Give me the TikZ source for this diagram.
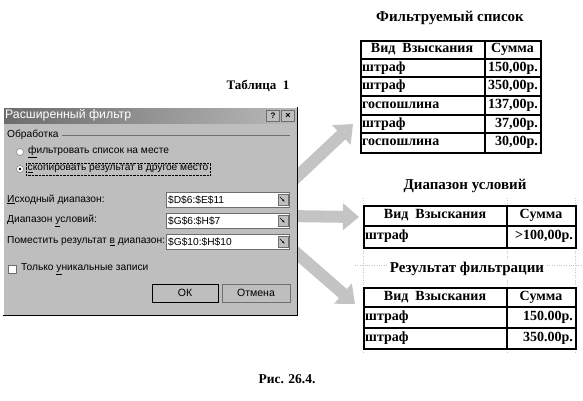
\documentclass[tikz,border=0pt]{standalone}
\usepackage{fontspec}
\setmainfont{Liberation Serif}
\setsansfont{Liberation Sans}
\usetikzlibrary{arrows.meta,calc,positioning}
\definecolor{dlggray}{RGB}{190,190,190}
\definecolor{arrgray}{RGB}{196,196,196}
\definecolor{dlgshadow}{RGB}{110,110,110}

\begin{document}
\begin{tikzpicture}[
    x=1pt, y=-1pt,
    dlgtext/.style={font=\sffamily\fontsize{10.2}{11}\selectfont, inner sep=0pt, anchor=west},
    field/.style={draw=dlgshadow, fill=white, minimum width=123pt, minimum height=15pt, inner sep=0pt, anchor=north west},
    pick/.style={draw=dlgshadow, fill=dlggray, minimum width=10pt, minimum height=11pt, inner sep=0pt, anchor=east},
    btn/.style={draw=dlgshadow, fill=dlggray, minimum height=18pt, inner sep=0pt, font=\sffamily\fontsize{10.5}{11}\selectfont},
    radio/.style={circle, draw=dlgshadow, fill=white, minimum size=7pt, inner sep=0pt},
    tbl/.style={draw, line width=2pt, inner sep=0pt, anchor=north west},
    rule/.style={line width=2pt},
    cell/.style={font=\bfseries\fontsize{14}{15}\selectfont, inner sep=1pt},
    ttl/.style={font=\bfseries\fontsize{15}{16}\selectfont, fill=white, inner sep=2pt},
    grid/.style={gray!45, dotted, line width=0.4pt},
    bigarrow/.style={line width=12pt, draw=arrgray, -{Triangle[width=26pt,length=16pt]}}
]
    \useasboundingbox (0,0) rectangle (583,400);

    % Excel grid behind the small tables
    \draw[grid] (363,198) -- (363,352);
    \draw[grid] (507,198) -- (507,352);
    \draw[grid] (575,198) -- (575,352);
    \draw[grid] (355,265) -- (583,265);

    % Titles
    \node[ttl] (srcttl) at (450,18) {Фильтруемый список};
    \node[ttl] (condttl) at (465,186) {Диапазон условий};
    \node[ttl] (resttl) at (467,269) {Результат фильтрации};
    \node[ttl, font=\bfseries\fontsize{13}{14}\selectfont] (tabno) at (258,86) {Таблица\ \ 1};
    \node[ttl, font=\bfseries\fontsize{13.5}{14}\selectfont] (fig) at (287,379) {Рис. 26.4.};

    % Filtered list
    \node[tbl, minimum width=180pt, minimum height=112pt] (srctab) at (360,40) {};
    \foreach \y in {59,77,96,115,133}
        \draw[rule] (360,\y) -- (540,\y);
    \draw[rule] (485,40) -- (485,152);
    \node[cell] (srch1) at (422,49.5) {Вид\ \ Взыскания};
    \node[cell] (srch2) at (512.5,49.5) {Сумма};
    \node[cell, anchor=west] (srcn1) at (361,68) {штраф};
    \node[cell, anchor=east] (srcs1) at (539,68) {150,00р.};
    \node[cell, anchor=west] (srcn2) at (361,86.5) {штраф};
    \node[cell, anchor=east] (srcs2) at (539,86.5) {350,00р.};
    \node[cell, anchor=west] (srcn3) at (361,105.5) {госпошлина};
    \node[cell, anchor=east] (srcs3) at (539,105.5) {137,00р.};
    \node[cell, anchor=west] (srcn4) at (361,124) {штраф};
    \node[cell, anchor=east] (srcs4) at (539,124) {37,00р.};
    \node[cell, anchor=west] (srcn5) at (361,142.5) {госпошлина};
    \node[cell, anchor=east] (srcs5) at (539,142.5) {30,00р.};

    % Criteria range
    \node[tbl, minimum width=212pt, minimum height=42pt] (condtab) at (363,205) {};
    \draw[rule] (363,226) -- (575,226);
    \draw[rule] (507,205) -- (507,247);
    \node[cell] (condh1) at (435,215.5) {Вид\ \ Взыскания};
    \node[cell] (condh2) at (541,215.5) {Сумма};
    \node[cell, anchor=west] (condn1) at (364,236.5) {штраф};
    \node[cell, anchor=east] (conds1) at (574,236.5) {>100,00р.};

    % Result
    \node[tbl, minimum width=212pt, minimum height=61pt] (restab) at (363,287) {};
    \draw[rule] (363,307) -- (575,307);
    \draw[rule] (363,328) -- (575,328);
    \draw[rule] (507,287) -- (507,348);
    \node[cell] (resh1) at (435,297) {Вид\ \ Взыскания};
    \node[cell] (resh2) at (541,297) {Сумма};
    \node[cell, anchor=west] (resn1) at (364,317.5) {штраф};
    \node[cell, anchor=east] (ress1) at (574,317.5) {150.00р.};
    \node[cell, anchor=west] (resn2) at (364,338) {штраф};
    \node[cell, anchor=east] (ress2) at (574,338) {350.00р.};

    % Dialog frame (arrows start behind it)
    \coordinate (dlgpin) at (3,107);
    \coordinate (a1s) at ($(dlgpin)+(282,81)$);
    \coordinate (a2s) at ($(dlgpin)+(282,109)$);
    \coordinate (a3s) at ($(dlgpin)+(282,136)$);
    \draw[bigarrow] (a1s) -- ($(srctab.west)+(-7,27)$);
    \draw[bigarrow] (a2s) -- ($(condtab.west)+(-4,-10)$);
    \draw[bigarrow] (a3s) -- ($(restab.west)+(-8,-14.5)$);

    \node[fill=dlggray, minimum width=294pt, minimum height=208pt, inner sep=0pt, anchor=north west] (dlg) at (dlgpin) {};
    \draw[white, line width=1pt] (dlg.south west) |- (dlg.north east);
    \draw[black, line width=1.2pt] (dlg.south west) -| (dlg.north east);

    % Title bar
    \node[left color=gray!85!black, right color=gray!55, minimum width=292pt, minimum height=15pt, inner sep=0pt, anchor=north west] (bar) at (4,108) {};
    \node[dlgtext, text=white, font=\sffamily\fontsize{12.3}{13}\selectfont] (barttl) at (5,115.5) {Расширенный фильтр};
    \node[draw=dlgshadow, fill=dlggray, minimum width=13pt, minimum height=11pt, inner sep=0pt, font=\sffamily\bfseries\fontsize{8}{8}\selectfont] (help) at (273,115.5) {?};
    \node[draw=dlgshadow, fill=dlggray, minimum width=13pt, minimum height=11pt, inner sep=0pt, font=\sffamily\bfseries\fontsize{9}{9}\selectfont] (close) at (288,115.5) {×};

    % Mode group
    \node[dlgtext] (grp) at (7,135) {Обработка};
    \draw[dlgshadow] ([xshift=3pt]grp.east) -- ([xshift=-7pt]grp.east -| dlg.east);
    \node[radio] (rb1) at (20,152) {};
    \node[dlgtext] (rt1) at (28,152) {\underline{ф}ильтровать список на месте};
    \node[radio] (rb2) at (20,169) {};
    \fill (rb2.center) circle (1.4);
    \node[dlgtext, draw, densely dotted, inner xsep=1.5pt, inner ysep=2.5pt] (rt2) at (26,169) {\underline{с}копировать результат в другое место};

    % Ranges
    \node[dlgtext] (l1) at (7,199.5) {\underline{И}сходный диапазон:};
    \node[field] (f1) at (166,192) {};
    \node[dlgtext] (v1) at ([xshift=2pt]f1.west) {\$D\$6:\$E\$11};
    \node[pick] (p1) at ([xshift=-1.5pt]f1.east) {};
    \draw[-{Latex[length=2.5pt]}] ([shift={(-3,-3)}]p1.center) -- ([shift={(2,2)}]p1.center);

    \node[dlgtext] (l2) at (7,220.5) {Диапазон \underline{у}словий:};
    \node[field] (f2) at (166,213) {};
    \node[dlgtext] (v2) at ([xshift=2pt]f2.west) {\$G\$6:\$H\$7};
    \node[pick] (p2) at ([xshift=-1.5pt]f2.east) {};
    \draw[-{Latex[length=2.5pt]}] ([shift={(-3,-3)}]p2.center) -- ([shift={(2,2)}]p2.center);

    \node[dlgtext] (l3) at (7,241.5) {Поместить результат \underline{в} диапазон:};
    \node[field] (f3) at (166,234) {};
    \node[dlgtext] (v3) at ([xshift=2pt]f3.west) {\$G\$10:\$H\$10};
    \node[pick] (p3) at ([xshift=-1.5pt]f3.east) {};
    \draw[-{Latex[length=2.5pt]}] ([shift={(-3,-3)}]p3.center) -- ([shift={(2,2)}]p3.center);

    % Unique records and buttons
    \node[draw=dlgshadow, fill=white, minimum size=8pt, inner sep=0pt] (chk) at (12,269) {};
    \node[dlgtext] (chkt) at (21,269) {Только \underline{у}никальные записи};
    \node[btn, draw=black, line width=0.8pt, minimum width=66pt] (ok) at (185,293) {ОК};
    \node[btn, minimum width=68pt] (cancel) at (256,293) {Отмена};
\end{tikzpicture}
\end{document}
